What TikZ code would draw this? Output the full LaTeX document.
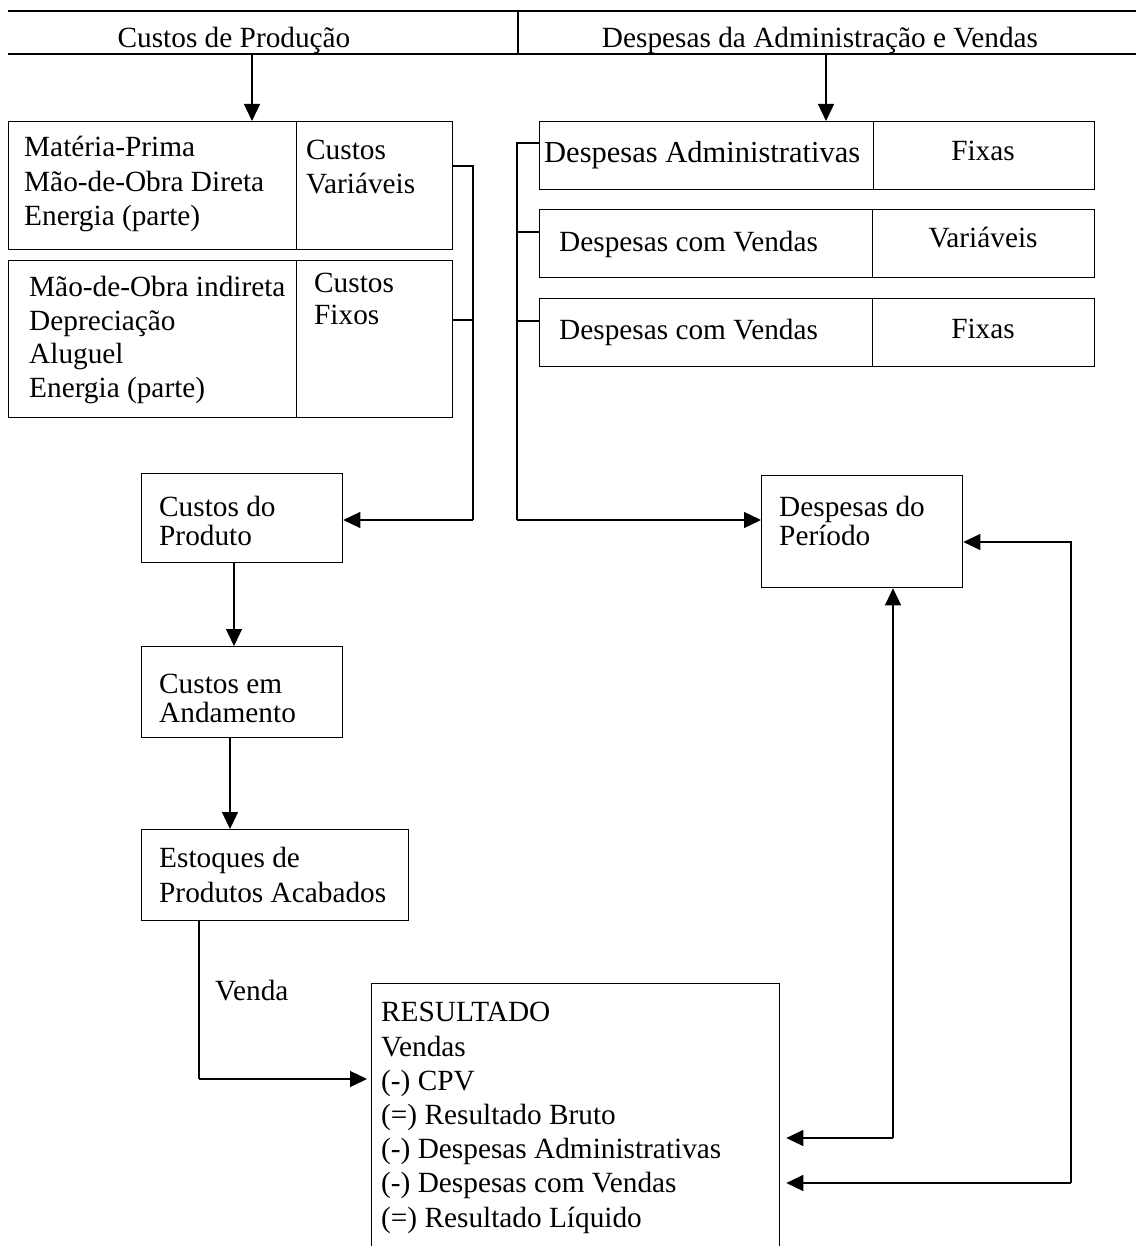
\documentclass[tikz,border=0pt]{standalone}
\usepackage{fontspec}
\setmainfont{Liberation Serif}
\usetikzlibrary{arrows.meta,calc}
\tikzset{
  cell/.style={draw,line width=1.3pt,inner sep=0pt,anchor=north west},
  txt/.style={inner sep=0pt,anchor=base west,align=left,font=\fontsize{29.3}{34.5}\selectfont},
  tight/.style={txt,font=\fontsize{29.3}{28.5}\selectfont},
  flow/.style={line width=1.3pt},
  arr/.style={flow,-{Triangle[length=17pt,width=16pt]}},
}
\begin{document}
\begin{tikzpicture}[x=1pt,y=-1pt]
  \useasboundingbox (0,0) rectangle (1136,1246);
  \clip (0,0) rectangle (1136,1246);
  \draw[flow] (8,11) -- (1136,11) (8,54) -- (1136,54) (518,11) -- (518,54);
  \node[txt,anchor=base] (cprod) at (234,48) {Custos de Produção};
  \node[txt,anchor=base] (dadm) at (820,48) {Despesas da Administração e Vendas};
  \coordinate (cpfoot) at (252,54);
  \coordinate (dafoot) at (826,54);

  \node[cell,minimum width=288pt,minimum height=128pt] (mp) at (8,121) {};
  \node[cell,minimum width=156pt,minimum height=128pt] (cv) at (296,121) {};
  \node[cell,minimum width=288pt,minimum height=157pt] (mi) at (8,260) {};
  \node[cell,minimum width=156pt,minimum height=157pt] (cf) at (296,260) {};
  \node[txt] (mptxt) at (24,226) {Matéria-Prima\\Mão-de-Obra Direta\\Energia (parte)};
  \node[txt] (cvtxt) at (306,194) {Custos\\Variáveis};
  \node[txt,font=\fontsize{29.3}{33.5}\selectfont] (mitxt) at (29,397) {Mão-de-Obra indireta\\Depreciação\\Aluguel\\Energia (parte)};
  \node[txt,font=\fontsize{29.3}{32}\selectfont] (cftxt) at (314,324) {Custos\\Fixos};

  \node[cell,minimum width=201pt,minimum height=89pt] (prod) at (141,473) {};
  \node[tight] (prodtxt) at (159,545) {Custos do\\Produto};
  \node[cell,minimum width=201pt,minimum height=91pt] (anda) at (141,646) {};
  \node[tight] (andatxt) at (159,722) {Custos em\\Andamento};
  \node[cell,minimum width=267pt,minimum height=91pt] (estq) at (141,829) {};
  \node[txt] (estqtxt) at (159,902) {Estoques de\\Produtos Acabados};
  \node[txt] (venda) at (215,1000) {Venda};
  \node[cell,minimum width=408pt,minimum height=290pt] (res) at (371,983) {};
  \node[txt,font=\fontsize{29.3}{34.2}\selectfont] (restxt) at (381,1227) {RESULTADO\\Vendas\\(-) CPV\\(=) Resultado Bruto\\(-) Despesas Administrativas\\(-) Despesas com Vendas\\(=) Resultado Líquido};

  \node[cell,minimum width=334pt,minimum height=68pt] (da) at (539,121) {};
  \node[cell,minimum width=221pt,minimum height=68pt] (dafx) at (873,121) {};
  \node[cell,minimum width=333pt,minimum height=68pt] (dv) at (539,209) {};
  \node[cell,minimum width=222pt,minimum height=68pt] (dvv) at (872,209) {};
  \node[cell,minimum width=333pt,minimum height=68pt] (df) at (539,298) {};
  \node[cell,minimum width=222pt,minimum height=68pt] (dff) at (872,298) {};
  \node[txt,font=\fontsize{30.5}{34.5}\selectfont] (datxt) at (544,163) {Despesas Administrativas};
  \node[txt,anchor=base] (dafxtxt) at (983,161) {Fixas};
  \node[txt] (dvtxt) at (559,252) {Despesas com Vendas};
  \node[txt,anchor=base] (dvvtxt) at (983,248) {Variáveis};
  \node[txt] (dftxt) at (559,339) {Despesas com Vendas};
  \node[txt,anchor=base] (dfftxt) at (983,338) {Fixas};
  \node[cell,minimum width=201pt,minimum height=112pt] (per) at (761,475) {};
  \node[tight] (pertxt) at (779,545) {Despesas do\\Período};

  \draw[arr] (cpfoot) -- (cpfoot |- mp.north);
  \draw[arr] (dafoot) -- (dafoot |- da.north);
  \coordinate (lbus) at (473,520);
  \draw[flow] ($(cv.north east)+(0,45)$) -| (lbus);
  \draw[flow] ($(cf.north east)+(0,60)$) -- ++(21,0);
  \draw[arr] (lbus) -- (lbus -| prod.east);
  \draw[arr] ($(prod.south west)+(93,0)$) -- ($(anda.north west)+(93,0)$);
  \draw[arr] ($(anda.south west)+(89,0)$) -- ($(estq.north west)+(89,0)$);
  \coordinate (vcorner) at (199,1079);
  \draw[flow] (vcorner |- estq.south) -- (vcorner);
  \draw[arr] (vcorner) -- ($(vcorner -| res.west)+(-4,0)$);

  \coordinate (rbus) at (517,520);
  \draw[flow] ($(da.north west)+(0,22)$) -| (rbus);
  \draw[flow] ($(dv.north west)+(0,23)$) -- ++(-22,0);
  \draw[flow] ($(df.north west)+(0,23)$) -- ++(-22,0);
  \draw[arr] (rbus) -- (rbus -| per.west);
  \coordinate (acorner) at (893,1138);
  \coordinate (vncorner) at (1071,1183);
  \draw[arr] (acorner) -- (acorner |- per.south);
  \draw[arr] (acorner) -- ($(acorner -| res.east)+(6,0)$);
  \draw[arr] (vncorner) |- ($(per.north east)+(0,67)$);
  \draw[arr] (vncorner) -- ($(vncorner -| res.east)+(6,0)$);
\end{tikzpicture}
\end{document}
